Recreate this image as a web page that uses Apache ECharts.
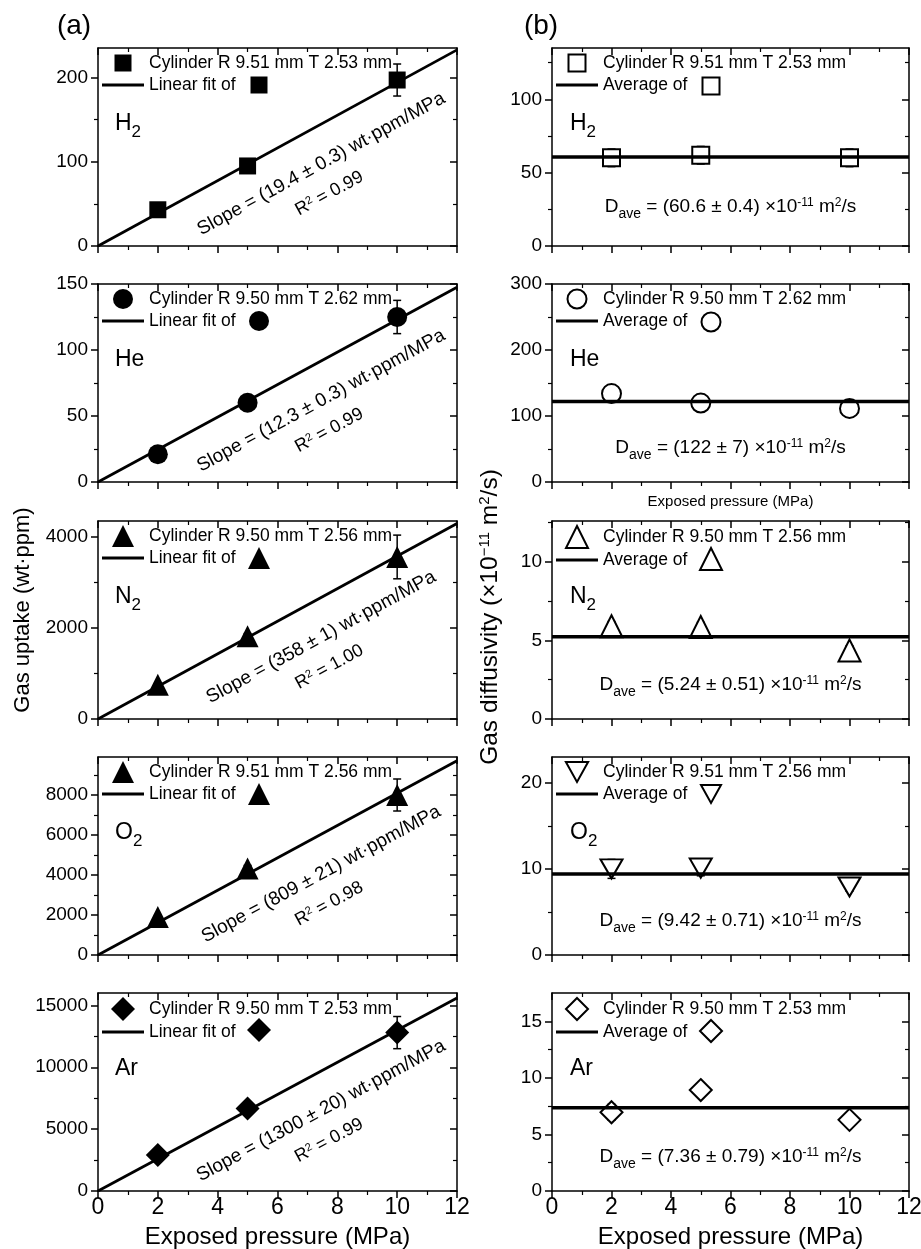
<!DOCTYPE html>
<html>
<head>
<meta charset="utf-8">
<title>Gas uptake and gas diffusivity</title>
<script src="https://cdn.jsdelivr.net/npm/echarts@6.0.0/dist/echarts.min.js"></script>
<style>
  html, body { margin: 0; padding: 0; background: #fff; }
  #chart { width: 921px; height: 1249px; }
</style>
</head>
<body>
<div id="chart"></div>
<script>
// exposed pressure (MPa) of the three runs
var pressure = [2, 5, 10]
var lineX = [0, 12]

// (a) gas uptake, wt·ppm
var uptakeH2 = [43, 95, 197]
var uptakeHe = [21, 60, 125]
var uptakeN2 = [750, 1817, 3560]
var uptakeO2 = [1900, 4330, 8000]
var uptakeAr = [2900, 6670, 12800]
var uptakeErrH2 = [3, 5, 19]
var uptakeErrHe = [2, 3, 12.6]
var uptakeErrN2 = [30, 60, 480]
var uptakeErrO2 = [80, 150, 800]
var uptakeErrAr = [200, 400, 1300]
// linear fit through origin, values at 0 and 12 MPa
var fitH2 = [0, 232.8]
var fitHe = [0, 147.6]
var fitN2 = [0, 4296]
var fitO2 = [0, 9708]
var fitAr = [0, 15600]

// (b) gas diffusivity, x10^-11 m2/s
var diffH2 = [60.1, 61.9, 60.1]
var diffHe = [134, 119.6, 111.5]
var diffN2 = [5.9, 5.85, 4.36]
var diffO2 = [10.0, 10.1, 7.9]
var diffAr = [6.96, 8.92, 6.29]
var diffErrH2 = [6, 6, 6]
var diffErrHe = [8, 8, 8]
var diffErrN2 = [0.3, 0.3, 0.3]
var diffErrO2 = [1.1, 0.9, 0.5]
var diffErrAr = [0.7, 0.4, 0.4]
var aveH2 = [60.6, 60.6]
var aveHe = [122, 122]
var aveN2 = [5.24, 5.24]
var aveO2 = [9.42, 9.42]
var aveAr = [7.36, 7.36]

// texts
var specimens = ['Cylinder R 9.51 mm T 2.53 mm', 'Cylinder R 9.50 mm T 2.62 mm', 'Cylinder R 9.50 mm T 2.56 mm', 'Cylinder R 9.51 mm T 2.56 mm', 'Cylinder R 9.50 mm T 2.53 mm']
var gasName = ['H', 'He', 'N', 'O', 'Ar']
var gasSub = ['2', '', '2', '2', '']
var slopeText = ['(19.4 ± 0.3)', '(12.3 ± 0.3)', '(358 ± 1)', '(809 ± 21)', '(1300 ± 20)']
var r2Text = ['0.99', '0.99', '1.00', '0.98', '0.99']
var daveText = ['(60.6 ± 0.4)', '(122 ± 7)', '(5.24 ± 0.51)', '(9.42 ± 0.71)', '(7.36 ± 0.79)']

// axis ticks
var uptakeTicks = [[0, 100, 200], [0, 50, 100, 150], [0, 2000, 4000], [0, 2000, 4000, 6000, 8000], [0, 5000, 10000, 15000]]
var uptakeMinor = [[50, 150], [25, 75, 125], [1000, 3000], [1000, 3000, 5000, 7000, 9000], [2500, 7500, 12500]]
var uptakeMax = [235, 150, 4350, 9900, 16000]
var diffTicks = [[0, 50, 100], [0, 100, 200, 300], [0, 5, 10], [0, 10, 20], [0, 5, 10, 15]]
var diffMinor = [[25, 75, 125], [50, 150, 250], [2.5, 7.5, 12.5], [5, 15], [2.5, 7.5, 12.5]]
var diffMax = [135, 300, 12.6, 23, 17.5]

var uptake = [uptakeH2, uptakeHe, uptakeN2, uptakeO2, uptakeAr]
var uptakeErr = [uptakeErrH2, uptakeErrHe, uptakeErrN2, uptakeErrO2, uptakeErrAr]
var fits = [fitH2, fitHe, fitN2, fitO2, fitAr]
var diff = [diffH2, diffHe, diffN2, diffO2, diffAr]
var diffErr = [diffErrH2, diffErrHe, diffErrN2, diffErrO2, diffErrAr]
var aves = [aveH2, aveHe, aveN2, aveO2, aveAr]

var FONT = '"Liberation Sans", Arial, Helvetica, sans-serif'
var BLACK = '#000'
var colLeft = [98, 552]
var colWidth = [359, 357]
var rowTop = [48, 284, 521, 757, 993]
var rowHeight = 198
var SQUARE = 'path://M0,0L10,0L10,10L0,10Z'
var TRI = 'path://M5,0L10,10L0,10Z'
var TRI_DOWN = 'path://M0,0L20,0L10,18Z'
var DIAMOND = 'path://M5,0L10,5L5,10L0,5Z'
var LINE_ICON = 'path://M0,0L42,0L42,3.2L0,3.2Z'
var symbols = [
  ['rect', 'circle', 'triangle', 'triangle', 'diamond'],
  ['rect', 'circle', 'triangle', TRI_DOWN, 'diamond']
]
var legendIcons = [
  [SQUARE, 'circle', TRI, TRI, DIAMOND],
  [SQUARE, 'circle', TRI, TRI_DOWN, DIAMOND]
]
var sizes = [
  [17, 20, 22, 22, 24],
  [17, 19, 22, [22, 19], 22]
]

var chart = echarts.init(document.getElementById('chart'))

function xAxisOf (g, pos, showLabel, name, nameSize, nameGap) {
  return {
    gridIndex: g, type: 'value', position: pos, min: 0, max: 12, interval: 2,
    axisLine: { onZero: false, lineStyle: { color: BLACK, width: 1.5 } },
    axisTick: { inside: pos === 'top', length: 7, lineStyle: { color: BLACK, width: 1.5 } },
    minorTick: { show: true, splitNumber: 2, length: 4, lineStyle: { color: BLACK, width: 1.2 } },
    splitLine: { show: false },
    axisLabel: { show: showLabel, fontSize: 23, color: BLACK, margin: 5, fontFamily: FONT },
    name: name || '',
    nameLocation: 'middle',
    nameGap: nameGap || 0,
    nameTextStyle: { fontSize: nameSize || 12, color: BLACK, fontFamily: FONT }
  }
}

function yAxisOf (g, pos, max, values, major) {
  return {
    gridIndex: g, type: 'value', position: pos, min: 0, max: max,
    axisLine: { show: major, onZero: false, lineStyle: { color: BLACK, width: 1.5 } },
    axisTick: { inside: pos === 'right', length: major ? 7 : 4, customValues: values, lineStyle: { color: BLACK, width: major ? 1.5 : 1.2 } },
    splitLine: { show: false },
    axisLabel: {
      show: major && pos === 'left', customValues: values, fontSize: 19, color: BLACK, margin: 10, fontFamily: FONT,
      formatter: function (v) { return String(v) }
    }
  }
}

function errorBars (g, ys, es) {
  return {
    type: 'custom', xAxisIndex: g * 2, yAxisIndex: g * 4, z: 1, silent: true,
    encode: { x: 0, y: 1 },
    data: pressure.map(function (x, i) { return [x, ys[i], es[i]] }),
    renderItem: function (params, api) {
      var x = api.value(0)
      var y = api.value(1)
      var e = api.value(2)
      var top = api.coord([x, y + e])
      var bot = api.coord([x, y - e])
      var w = 4
      var st = { stroke: BLACK, lineWidth: 1.5 }
      return {
        type: 'group',
        children: [
          { type: 'line', shape: { x1: top[0], y1: top[1], x2: bot[0], y2: bot[1] }, style: st },
          { type: 'line', shape: { x1: top[0] - w, y1: top[1], x2: top[0] + w, y2: top[1] }, style: st },
          { type: 'line', shape: { x1: bot[0] - w, y1: bot[1], x2: bot[0] + w, y2: bot[1] }, style: st }
        ]
      }
    }
  }
}

var legendText = {}
var grids = []
var xAxes = []
var yAxes = []
var series = []
var legends = []

for (var r = 0; r < 5; r++) {
  for (var c = 0; c < 2; c++) {
    var g = r * 2 + c
    var gl = colLeft[c]
    var gt = rowTop[r]
    grids.push({ left: gl, top: gt, width: colWidth[c], height: rowHeight, containLabel: false, outerBoundsMode: 'none' })

    var xName = ''
    var xNameSize = 12
    var xNameGap = 0
    if (r === 4) { xName = 'Exposed pressure (MPa)'; xNameSize = 24; xNameGap = 34 }
    if (r === 1 && c === 1) { xName = 'Exposed pressure (MPa)'; xNameSize = 15; xNameGap = 12 }
    xAxes.push(xAxisOf(g, 'bottom', r === 4, xName, xNameSize, xNameGap))
    xAxes.push(xAxisOf(g, 'top', false))

    var max = c ? diffMax[r] : uptakeMax[r]
    var major = c ? diffTicks[r] : uptakeTicks[r]
    var minor = c ? diffMinor[r] : uptakeMinor[r]
    yAxes.push(yAxisOf(g, 'left', max, major, true))
    yAxes.push(yAxisOf(g, 'left', max, minor, false))
    yAxes.push(yAxisOf(g, 'right', max, major, true))
    yAxes.push(yAxisOf(g, 'right', max, minor, false))

    var key = (c ? 'b' : 'a') + r
    var ys = c ? diff[r] : uptake[r]
    var line = c ? aves[r] : fits[r]
    legendText[key] = specimens[r]
    legendText[key + 'f'] = c ? 'Average of' : 'Linear fit of'

    series.push({
      name: key, type: 'scatter', xAxisIndex: g * 2, yAxisIndex: g * 4,
      symbol: symbols[c][r], symbolSize: sizes[c][r], z: 3, silent: true,
      itemStyle: c ? { color: '#fff', borderColor: BLACK, borderWidth: 2, opacity: 1 } : { color: BLACK, opacity: 1 },
      data: pressure.map(function (x, i) { return [x, ys[i]] })
    })
    series.push({
      name: key + 'f', type: 'line', xAxisIndex: g * 2, yAxisIndex: g * 4,
      symbol: 'none', z: c ? 4 : 2, silent: true,
      lineStyle: { color: BLACK, width: c ? 3.5 : 2.8 },
      itemStyle: { color: BLACK },
      data: lineX.map(function (x, i) { return [x, line[i]] })
    })
    series.push(errorBars(g, ys, c ? diffErr[r] : uptakeErr[r]))

    var sz = sizes[c][r]
    var iconH = Array.isArray(sz) ? 20 : sz
    legends.push({
      left: gl + 4, top: gt + 4, orient: 'vertical', padding: 0, itemGap: 0,
      itemWidth: 42, itemHeight: iconH, selectedMode: false, symbolKeepAspect: true,
      data: [{ name: key, icon: legendIcons[c][r] }, { name: key + 'f', icon: LINE_ICON }],
      formatter: function (name) { return legendText[name] },
      textStyle: { fontSize: 17.5, color: BLACK, fontFamily: FONT, lineHeight: 22 }
    })
    legends.push({
      left: gl + (c ? 158 : 161) - iconH / 2, top: gt + 37 - iconH / 2, padding: 0,
      itemWidth: iconH, itemHeight: iconH, selectedMode: false, symbolKeepAspect: true,
      data: [{ name: key, icon: legendIcons[c][r] }],
      formatter: function () { return '' },
      textStyle: { fontSize: 1, lineHeight: iconH }
    })
  }
}

chart.setOption({
  backgroundColor: '#fff',
  animation: false,
  grid: grids,
  xAxis: xAxes,
  yAxis: yAxes,
  legend: legends,
  series: series
})

// annotations
function richSet (size) {
  return {
    n: { fontSize: size, fontFamily: FONT, fill: BLACK, lineHeight: size + 3, verticalAlign: 'top' },
    sup: { fontSize: Math.round(size * 0.62), fontFamily: FONT, fill: BLACK, lineHeight: Math.round(size * 0.6), verticalAlign: 'top' },
    sub: { fontSize: Math.round(size * 0.72), fontFamily: FONT, fill: BLACK, lineHeight: Math.round(size * 0.72), padding: [Math.round(size * 0.55), 0, 0, 0], verticalAlign: 'top' }
  }
}
var richSlope = richSet(19)
var richR2 = richSet(18)
var richDave = richSet(19)
var richTitle = richSet(24.5)
var richGas = {
  g: { fontSize: 23, fontFamily: FONT, fill: BLACK, lineHeight: 25, verticalAlign: 'top' },
  s: { fontSize: 17, fontFamily: FONT, fill: BLACK, lineHeight: 17, padding: [11, 0, 0, 0], verticalAlign: 'top' }
}

function textEl (x, y, text, opts) {
  opts = opts || {}
  return {
    type: 'text', x: x, y: y, rotation: opts.rotation || 0, silent: true, z: 10,
    style: {
      text: text, rich: opts.rich, fontSize: opts.fontSize || 17, fontFamily: FONT, fill: BLACK,
      align: opts.align || 'center', verticalAlign: 'middle'
    }
  }
}

var graphics = [
  textEl(74, 26, '(a)', { fontSize: 28 }),
  textEl(541, 26, '(b)', { fontSize: 28 }),
  textEl(23, 610, 'Gas uptake (wt·ppm)', { fontSize: 22, rotation: Math.PI / 2 }),
  textEl(491, 617, '{n|Gas diffusivity (×10}{sup|−11}{n| m}{sup|2}{n|/s)}', { rich: richTitle, rotation: Math.PI / 2 })
]

for (var k = 0; k < 5; k++) {
  for (var cc = 0; cc < 2; cc++) {
    var label = '{g|' + gasName[k] + '}' + (gasSub[k] ? '{s|' + gasSub[k] + '}' : '')
    graphics.push(textEl(colLeft[cc] + (cc ? 18 : 17), rowTop[k] + 77, label, { rich: richGas, align: 'left' }))
  }
  // slope annotation along the fit line
  var p0 = chart.convertToPixel({ xAxisIndex: k * 4, yAxisIndex: k * 8 }, [lineX[0], fits[k][0]])
  var p1 = chart.convertToPixel({ xAxisIndex: k * 4, yAxisIndex: k * 8 }, [lineX[1], fits[k][1]])
  var theta = Math.atan2(p0[1] - p1[1], p1[0] - p0[0])
  var nx = Math.sin(theta)
  var ny = Math.cos(theta)
  var tx = Math.cos(theta)
  var ty = -Math.sin(theta)
  var ax = p0[0] + (p1[0] - p0[0]) * 0.575
  var ay = p0[1] + (p1[1] - p0[1]) * 0.575
  var sx = ax + nx * 36.5
  var sy = ay + ny * 36.5
  graphics.push(textEl(sx, sy, '{n|Slope = ' + slopeText[k] + ' wt·ppm/MPa}', { rich: richSlope, rotation: theta }))
  graphics.push(textEl(sx + nx * 30 - tx * 7, sy + ny * 30 - ty * 7, '{n|R}{sup|2}{n| = ' + r2Text[k] + '}', { rich: richR2, rotation: theta }))
  // average annotation
  var gb = rowTop[k] + rowHeight
  graphics.push(textEl(colLeft[1] + colWidth[1] / 2, gb - (k === 0 ? 38 : 33),
    '{n|D}{sub|ave}{n| = ' + daveText[k] + ' ×10}{sup|-11}{n| m}{sup|2}{n|/s}', { rich: richDave }))
}

chart.setOption({ graphic: graphics })
</script>
</body>
</html>
